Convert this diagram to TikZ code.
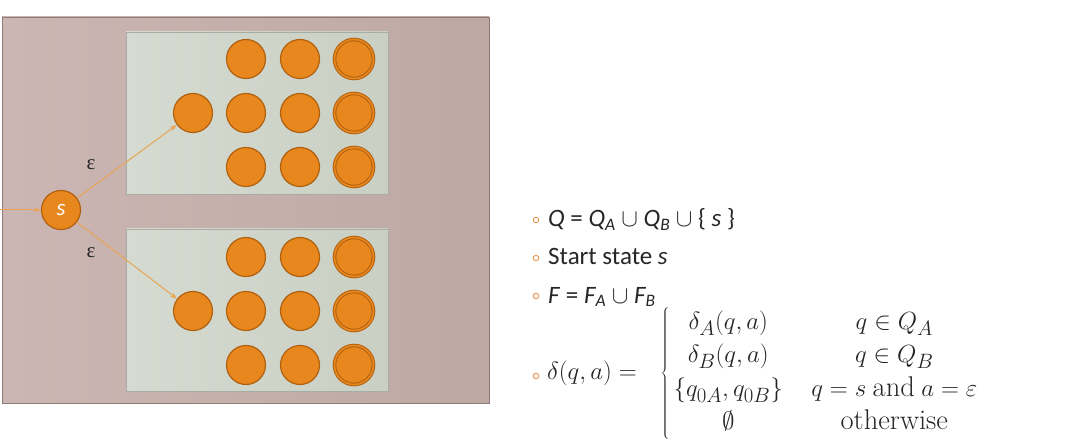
\documentclass[tikz,border=0pt]{standalone}
\usepackage{fontspec}
\setmainfont{Carlito}
\newfontfamily\epsfont{Liberation Serif}
\usetikzlibrary{arrows.meta}
\newcommand{\lmtext}[1]{\mbox{\fontfamily{lmr}\selectfont #1}}
\definecolor{outerA}{HTML}{CCB6B3}
\definecolor{outerB}{HTML}{BDA8A3}
\definecolor{outerD}{HTML}{8E7A76}
\definecolor{innerA}{HTML}{D5DBD0}
\definecolor{innerB}{HTML}{C9CFC3}
\definecolor{innerD}{HTML}{A6ADA4}
\definecolor{stateF}{HTML}{E8871E}
\definecolor{stateD}{HTML}{B0600F}
\definecolor{arrowC}{HTML}{E9A455}
\definecolor{bulletC}{HTML}{E39A4A}
\begin{document}
\begin{tikzpicture}[x=1pt,y=-1pt,
  stnode/.style={circle,fill=stateF,draw=stateD,line width=1.2pt,minimum size=39pt,inner sep=0pt},
  acc/.style={stnode,double=stateF,double distance=1.6pt,line width=1pt},
  inbox/.style={draw=innerD,line width=0.6pt,left color=innerA,right color=innerB},
  tr/.style={draw=arrowC,line width=1pt,-{Stealth[length=7pt,width=5pt]}},
  eps/.style={font=\epsfont\fontsize{21}{22}\selectfont,text=black!85},
  bul/.style={circle,draw=bulletC,line width=0.9pt,minimum size=5.5pt,inner sep=0pt},
  line/.style={anchor=base west,font=\fontsize{25}{30}\selectfont,inner sep=0pt,text=black!85}]
\useasboundingbox (0,0) rectangle (1067,446);
\fill[white] (0,0) rectangle (1067,446);
% outer panel
\draw[draw=outerD,line width=0.8pt,left color=outerA,right color=outerB] (2,17) rectangle (489,403);
% inner boxes
\draw[inbox] (126,32) rectangle (388,194);
\draw[inbox] (126,229) rectangle (388,391);
% states, top automaton
\node[stnode] (a0) at (193,113) {};
\node[stnode] (a11) at (246,59) {};
\node[stnode] (a12) at (300,59) {};
\node[acc] (a13) at (354,59) {};
\node[stnode] (a21) at (246,113) {};
\node[stnode] (a22) at (300,113) {};
\node[acc] (a23) at (354,113) {};
\node[stnode] (a31) at (246,167) {};
\node[stnode] (a32) at (300,167) {};
\node[acc] (a33) at (354,167) {};
% states, bottom automaton
\node[stnode] (b0) at (193,311) {};
\node[stnode] (b11) at (246,257) {};
\node[stnode] (b12) at (300,257) {};
\node[acc] (b13) at (354,257) {};
\node[stnode] (b21) at (246,311) {};
\node[stnode] (b22) at (300,311) {};
\node[acc] (b23) at (354,311) {};
\node[stnode] (b31) at (246,365) {};
\node[stnode] (b32) at (300,365) {};
\node[acc] (b33) at (354,365) {};
% start state
\node[stnode,font=\fontsize{23}{23}\selectfont\itshape,text=white] (s) at (61,210) {s};
\coordinate (in) at (0,210);
\draw[tr] (in) -- (s);
\draw[tr] (s) -- (a0);
\draw[tr] (s) -- (b0);
\node[eps] (e1) at (91,165) {ε};
\node[eps] (e2) at (91,253) {ε};
% bullets
\node[bul] (p1) at (536,220) {};
\node[bul] (p2) at (536,258) {};
\node[bul] (p3) at (536,296) {};
\node[bul] (p4) at (536,376) {};
\node[line] (t1) at (548,227) {\itshape Q\/ \upshape= \itshape Q\textsubscript{A}\/ \upshape$\cup$ \itshape Q\textsubscript{B}\/ \upshape$\cup$ \{ \itshape s \upshape\}};
\node[line] (t2) at (548,265) {Start state \itshape s};
\node[line] (t3) at (548,303) {\itshape F\/ \upshape= \itshape F\textsubscript{A}\/ \upshape$\cup$ \itshape F\textsubscript{B}};
\node[anchor=west,inner sep=0pt,font=\fontsize{28.5}{31}\selectfont,text=black!85] (t4) at (547,373)
  {$\delta(q,a) = \hspace{17pt}\left\{\renewcommand{\arraystretch}{1.08}\begin{array}{@{\,}c@{\quad}c@{}}
   \delta_A(q,a) & q\in Q_A\\
   \delta_B(q,a) & q\in Q_B\\
   \{q_{0A},q_{0B}\} & q = s \ \lmtext{and}\ a=\varepsilon\\
   \emptyset & \lmtext{otherwise}
  \end{array}\right.$};
\end{tikzpicture}
\end{document}
